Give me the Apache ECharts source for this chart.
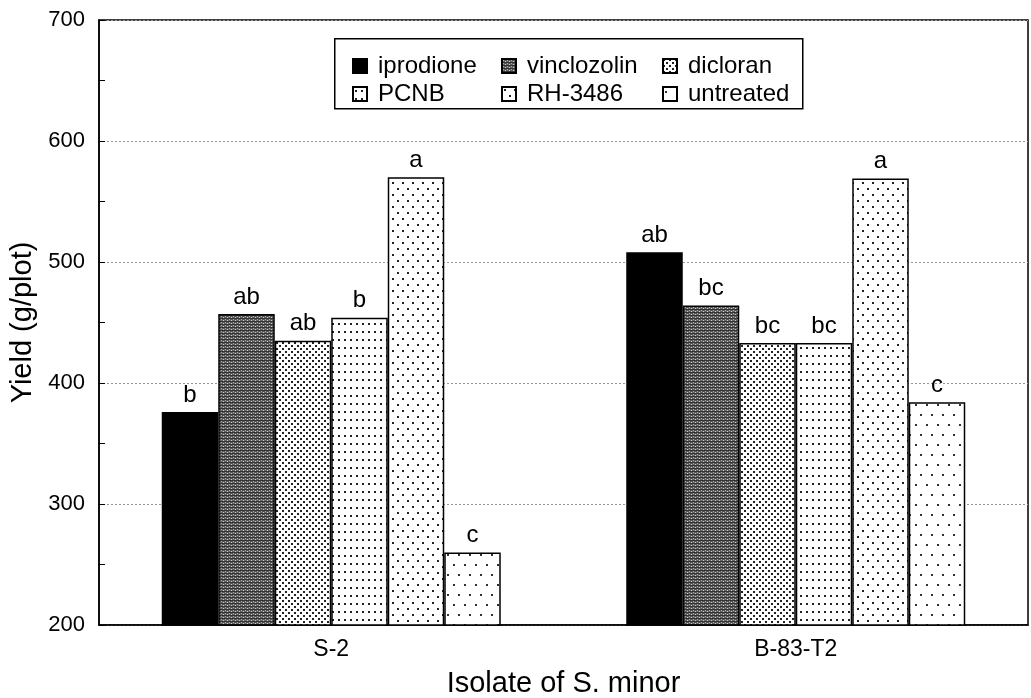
<!DOCTYPE html>
<html>
<head>
<meta charset="utf-8">
<script src="https://cdn.jsdelivr.net/npm/echarts@6/dist/echarts.min.js"></script>
<style>html,body{margin:0;padding:0;background:#fff;}#c{width:1031px;height:698px;}</style>
</head>
<body>
<div id="c"></div>
<script>
// ---- data ----
const categories = ['S-2', 'B-83-T2'];
const treatments = ['iprodione', 'vinclozolin', 'dicloran', 'PCNB', 'RH-3486', 'untreated'];
const iprodione   = [376, 508];
const vinclozolin = [457, 464];
const dicloran    = [435, 433];
const pcnb        = [454, 433];
const rh3486      = [570, 569];
const untreated   = [260, 384];
const iprodioneLetters   = ['b', 'ab'];
const vinclozolinLetters = ['ab', 'bc'];
const dicloranLetters    = ['ab', 'bc'];
const pcnbLetters        = ['b', 'bc'];
const rh3486Letters      = ['a', 'a'];
const untreatedLetters   = ['c', 'c'];
const yTicks = [200, 300, 400, 500, 600, 700];

// ---- patterns ----
function pat(w, h, draw) {
  const c = document.createElement('canvas');
  c.width = w; c.height = h;
  const g = c.getContext('2d');
  g.fillStyle = '#fff'; g.fillRect(0, 0, w, h);
  draw(g);
  return { image: c, repeat: 'repeat' };
}
function dot(g, x, y, s, col) { g.fillStyle = col || '#000'; g.fillRect(x, y, s, s); }

const fills = [
  '#000',
  pat(4, 3, g => { g.fillStyle = '#333'; g.fillRect(0, 0, 4, 1); g.fillStyle = '#555'; g.fillRect(0, 1, 4, 1); g.fillStyle = '#aaa'; g.fillRect(1, 1, 1, 1); g.fillStyle = '#666'; g.fillRect(0, 2, 4, 1); g.fillStyle = '#ccc'; g.fillRect(3, 2, 1, 1); }),
  pat(6, 6, g => { dot(g, 0, 0, 2, '#222'); dot(g, 3, 3, 2, '#222'); }),
  pat(6, 8, g => { dot(g, 2, 3, 2, '#222'); }),
  pat(10, 12, g => { dot(g, 2, 2, 2, '#222'); dot(g, 7, 8, 2, '#222'); }),
  pat(11, 20, g => { dot(g, 2, 4, 2, '#333'); dot(g, 7, 14, 2, '#333'); })
];

const values = [iprodione, vinclozolin, dicloran, pcnb, rh3486, untreated];
const letters = [iprodioneLetters, vinclozolinLetters, dicloranLetters, pcnbLetters, rh3486Letters, untreatedLetters];

const FONT = '"Liberation Sans", Arial, Helvetica, sans-serif';

const series = treatments.map((name, i) => ({
  name: name,
  type: 'bar',
  data: values[i],
  barWidth: 56.5,
  barGap: '0%',
  itemStyle: { color: fills[i], borderColor: '#000', borderWidth: 1.5 },
  label: {
    show: true, position: 'top', distance: 5,
    formatter: p => letters[i][p.dataIndex],
    color: '#000', fontSize: 24, fontFamily: FONT
  },
  emphasis: { disabled: true },
  animation: false
}));

function legendCol(names, left) {
  return {
    data: names, left: left, top: 49, z: 10, orient: 'vertical',
    icon: 'rect', itemWidth: 14, itemHeight: 14, itemGap: 4,
    textStyle: { fontSize: 24, fontFamily: FONT, color: '#000', lineHeight: 24, padding: [0, 0, 0, 6] },
    selectedMode: false
  };
}

const chart = echarts.init(document.getElementById('c'), null, { renderer: 'canvas' });
chart.setOption({
  animation: false,
  backgroundColor: '#fff',
  grid: { left: 99, right: 3, top: 20, bottom: 73, outerBoundsMode: 'none', containLabel: false, show: true, borderColor: '#000', borderWidth: 1.5, backgroundColor: 'transparent' },
  graphic: [{
    type: 'rect', left: 334, top: 38, z: 5,
    shape: { width: 468, height: 70 },
    style: { fill: '#fff', stroke: '#000', lineWidth: 1.5 }
  }],
  legend: [
    legendCol([treatments[0], treatments[3]], 347),
    legendCol([treatments[1], treatments[4]], 496),
    legendCol([treatments[2], treatments[5]], 657)
  ],
  xAxis: {
    type: 'category', data: categories,
    axisLine: { lineStyle: { color: '#000', width: 1.5 } },
    axisTick: { show: false },
    axisLabel: { color: '#000', fontSize: 23, fontFamily: FONT, margin: 13 },
    name: 'Isolate of S. minor', nameLocation: 'middle', nameGap: 44,
    nameTextStyle: { color: '#000', fontSize: 29, fontFamily: FONT }
  },
  yAxis: {
    type: 'value', min: yTicks[0], max: yTicks[yTicks.length - 1], interval: 100,
    axisLine: { show: true, lineStyle: { color: '#000', width: 1.5 } },
    axisTick: { show: true, inside: true, length: 6, lineStyle: { color: '#000' } },
    minorTick: { show: true, splitNumber: 2, length: 6, lineStyle: { color: '#000' } },
    axisLabel: { color: '#000', fontSize: 22, fontFamily: FONT, margin: 14 },
    splitLine: { show: true, lineStyle: { color: '#999', type: [2, 2], width: 1 } },
    name: 'Yield (g/plot)', nameLocation: 'middle', nameGap: 59,
    nameTextStyle: { color: '#000', fontSize: 29, fontFamily: FONT }
  },
  series: series
});
</script>
</body>
</html>
